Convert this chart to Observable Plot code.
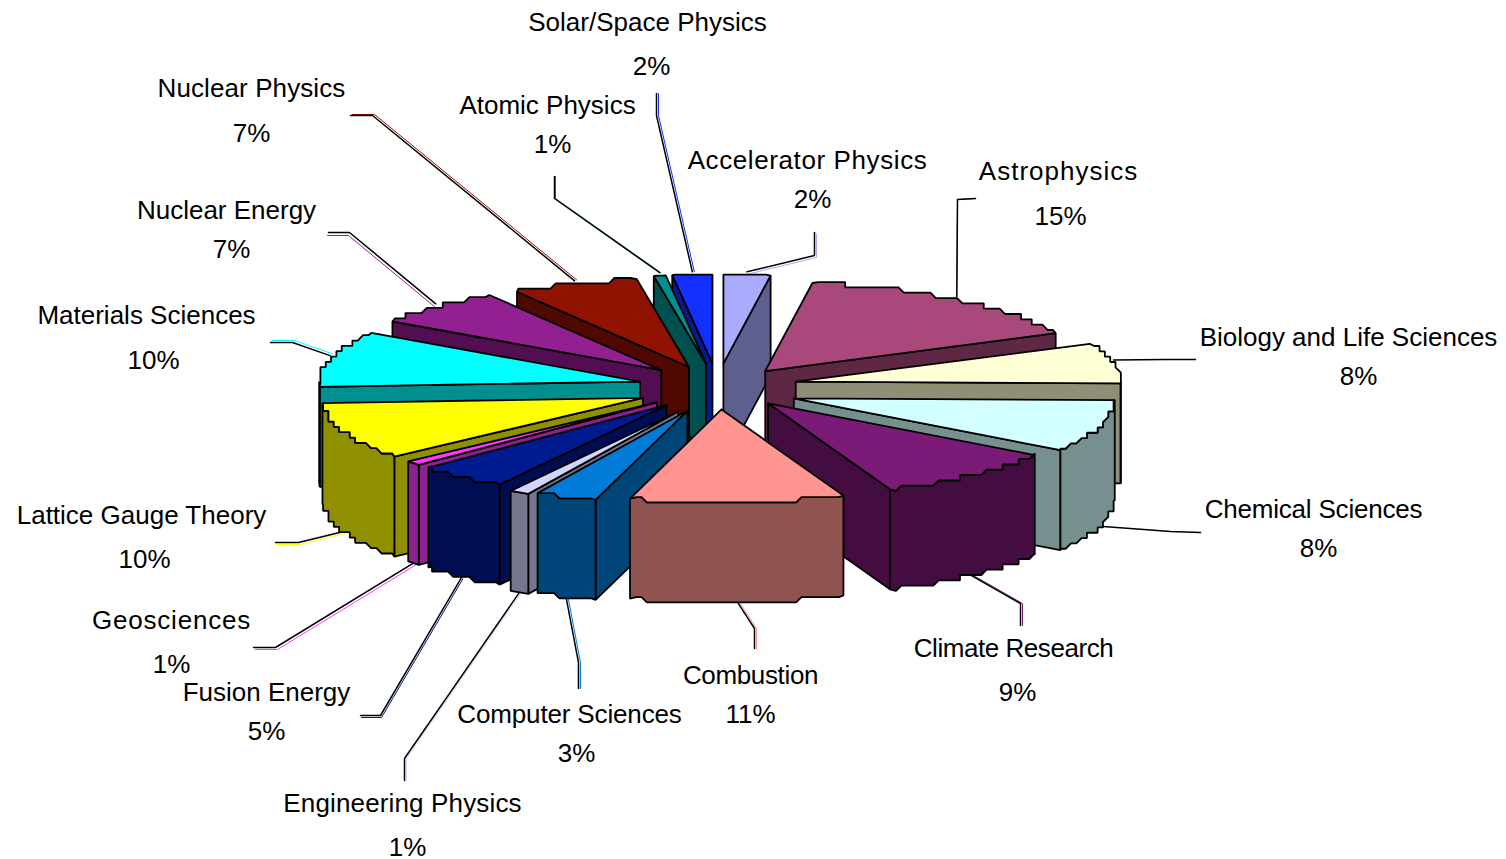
<!DOCTYPE html>
<html>
<head>
<meta charset="utf-8">
<script src="https://cdn.jsdelivr.net/npm/d3@7"></script>
<script src="https://cdn.jsdelivr.net/npm/@observablehq/plot@0.6"></script>
<style>html,body{margin:0;padding:0;background:#fff}svg{display:block}</style>
</head>
<body>
<div id="chart"></div>
<script>
// ---- data, clockwise from 12 o'clock
const categories = ["Accelerator Physics","Astrophysics","Biology and Life Sciences","Chemical Sciences","Climate Research","Combustion","Computer Sciences","Engineering Physics","Fusion Energy","Geosciences","Lattice Gauge Theory","Materials Sciences","Nuclear Energy","Nuclear Physics","Atomic Physics","Solar/Space Physics"];
const percentLabels = [2,15,8,8,9,11,3,1,5,1,10,10,7,7,1,2];
// wedge sizes as measured on the picture (% of the turn)
const wedgeShares = [2.35,15.65,7.3,9.1,9.4,10.8,3.1,1.0,4.6,0.8,10.0,10.1,6.8,6.4,0.6,2.0];
const topColors = ["#AAAAFF","#A9487A","#FFFFD6","#D2FFFF","#7C1A78","#FF9490","#007CD8","#D4D4FF","#001A90","#FF38FF","#FFFF00","#00FFFF","#932090","#8F1300","#008F8F","#1430FF"];
const sideColors = ["#5F5F8F","#5E2743","#8F8F77","#768F8F","#440D42","#8F5350","#004578","#76768F","#000D50","#8F208F","#8F8F00","#008F8F","#520E50","#500900","#005050","#0B1A8F"];

// ---- layout of the 3-D projection
const W = 1506, H = 859;
const cx = 717, cy = 386, explodeX = 80, explodeY = 23;
const Rx = 321, RyBack = 89, RyFront = 93, depth = 100, cell = 5.33;
const apexNudgeY = [0,3,0,5,-1,0,3,5,1,1,3,1,0,2,0,0];
const radiusNudge = [0,0,4,0,0,0,1,1,0,0,0,0,0,0,0,0];

// ---- layout of labels: name centre, percent centre, leader elbow, leader end, ghost offset, tracking
const nameX = [807,1058,1348,1313,1013,750,569,402,266,171,141,146,226,251,547,647];
const nameY = [160,171,337,509,648,675,714,803,692,620,515,315,210,88,105,22];
const pctX  = [812,1060,1358,1318,1017,750,576,407,266,171,144,153,231,251,552,651];
const pctY  = [199,216,376,548,692,714,753,847,731,664,559,360,249,133,144,66];
const elbowX = [814,957,1165,1170,1020,754,578,404,380,275,298,292,349,372,554,656];
const elbowY = [255,199,359,531,603,628,662,758,715,647,542,342,232,115,198,115];
const endX   = [814,975,1195,1200,1020,754,578,404,360,253,275,270,328,350,554,656];
const endY   = [232,198,359,532,625,648,688,780,715,647,542,342,232,115,176,93];
const ghostDx = [2,0,0,2,2,2,2,2,1,2,1,2,-1,2,1,2];
const ghostDy = [2,0,2,0,0,0,0,0,2,2,2,-2,3,-1,0,0];
const tracking = [0.6,1,0,-0.2,-0.45,-0.35,-0.15,0.15,0,0.8,0,0,0,0.1,0,0];

// ---- geometry derived from the shares
const rad = d => d * Math.PI / 180;
let cum = 0;
const slices = categories.map((name, i) => {
  const a0 = cum * 3.6; cum += wedgeShares[i]; const a1 = cum * 3.6;
  const mid = (a0 + a1) / 2;
  const ax = cx + explodeX * Math.sin(rad(mid));
  const ay = cy - explodeY * Math.cos(rad(mid)) + apexNudgeY[i];
  return {i, name, a0, a1, mid, ax, ay, rx: Rx + radiusNudge[i], top: topColors[i], side: sideColors[i]};
});
const rim = (s, a) => {
  const c = Math.cos(rad(a));
  return [s.ax + s.rx * Math.sin(rad(a)), s.ay - (c < 0 ? RyFront : RyBack) * c];
};
// arc as a stair-stepped outline, like the low-resolution original
function arc(s, a0, a1) {
  const pts = [rim(s, a0)];
  if (a1 - a0 >= 4) {
    const n = Math.ceil((a1 - a0) / 0.8);
    const y0 = Math.cos(rad((a0 + a1) / 2)) < 0 ? s.ay + RyFront : s.ay - RyBack;
    for (let k = 1; k < n; k++) {
      const [x, y] = rim(s, a0 + (a1 - a0) * k / n);
      const q = [s.ax + Math.round((x - s.ax) / cell) * cell, y0 + Math.round((y - y0) / cell) * cell];
      const l = pts[pts.length - 1];
      if (q[0] !== l[0] || q[1] !== l[1]) pts.push(q);
    }
  }
  pts.push(rim(s, a1));
  return pts;
}

const rows = [];
let pid = 0;
const addPoly = (pts, fill) => { pid++; pts.forEach(p => rows.push({id: pid, x: p[0], y: p[1], fill})); };
const down = p => [p[0], p[1] + depth];

[...slices].sort((a, b) => Math.cos(rad(b.mid)) - Math.cos(rad(a.mid))).forEach(s => {
  const apex = [s.ax, s.ay];
  if (s.a1 < 180) { const e = rim(s, s.a1); addPoly([apex, e, down(e), down(apex), apex], s.side); }
  if (s.a0 > 180) { const e = rim(s, s.a0); addPoly([apex, e, down(e), down(apex), apex], s.side); }
  const from = Math.max(s.a0, 90), to = Math.min(s.a1, 270);
  if (to > from) {
    const a = arc(s, from, to);
    addPoly([...a, ...a.map(down).reverse(), a[0]], s.side);
  }
  addPoly([apex, ...arc(s, s.a0, s.a1), apex], s.top);
});

const leaders = [];
slices.forEach(s => {
  const p = rim(s, s.mid);
  const c = Math.cos(rad(s.mid));
  const a = c < 0 ? down(p) : p;
  leaders.push({id: s.i, x: a[0], y: a[1] - (c < 0 ? 0 : 3)});
  leaders.push({id: s.i, x: elbowX[s.i], y: elbowY[s.i]});
  leaders.push({id: s.i, x: endX[s.i], y: endY[s.i]});
});

const labelRows = categories.flatMap((name, i) => [
  {t: name, x: nameX[i], y: nameY[i]},
  {t: percentLabels[i] + "%", x: pctX[i], y: pctY[i]}
]);

const ghosts = categories.map((_, i) =>
  Plot.line(leaders.filter(d => d.id === i), {x: "x", y: "y", stroke: topColors[i], strokeWidth: 1, dx: ghostDx[i], dy: ghostDy[i]}));

const chart = Plot.plot({
  width: W, height: H, margin: 0,
  style: {background: "#fff", overflow: "visible"},
  x: {domain: [0, W], range: [0, W], axis: null},
  y: {domain: [0, H], range: [0, H], axis: null},
  color: {type: "identity"},
  marks: [
    ...ghosts,
    Plot.line(leaders, {x: "x", y: "y", z: "id", stroke: "#000", strokeWidth: 1.5}),
    Plot.line(rows, {x: "x", y: "y", z: "id", fill: "fill", stroke: "#000", strokeWidth: 1.8, strokeLinejoin: "miter"}),
    Plot.text(labelRows, {x: "x", y: "y", text: "t", fontSize: 26, fontFamily: "'Liberation Sans', Arial, sans-serif", fill: "#000", textAnchor: "middle", lineAnchor: "middle"})
  ]
});
chart.querySelectorAll("text").forEach(t => {
  const i = categories.indexOf(t.textContent);
  if (i >= 0 && tracking[i]) t.style.letterSpacing = tracking[i] + "px";
});
document.getElementById("chart").appendChild(chart);
</script>
</body>
</html>
